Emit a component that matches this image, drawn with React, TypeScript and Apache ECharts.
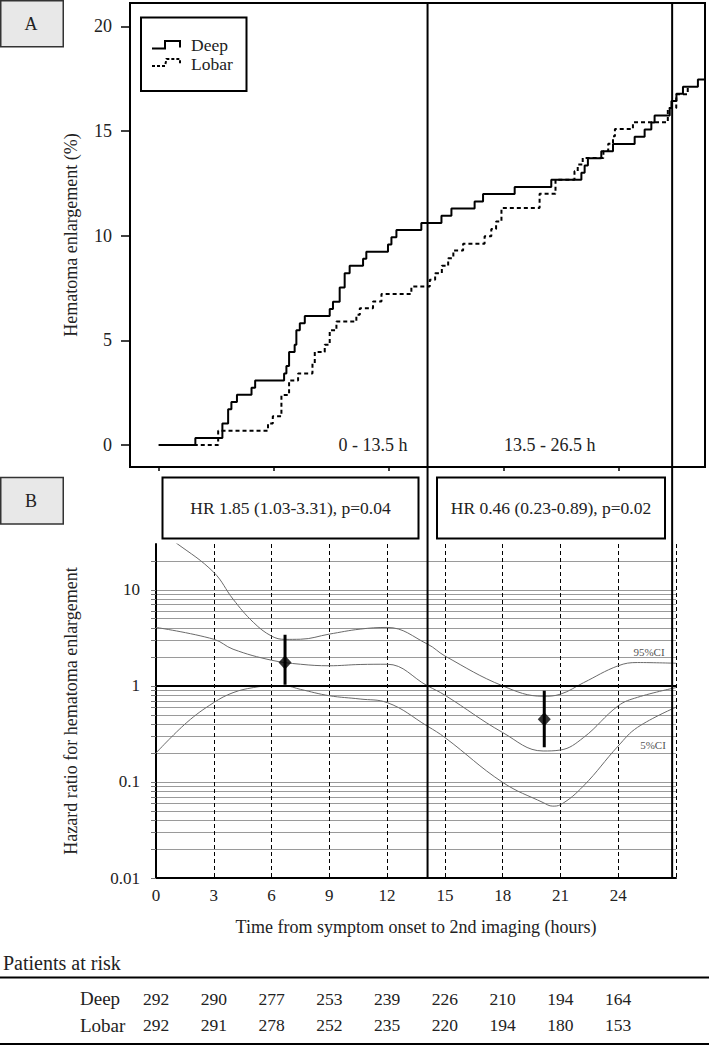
import React, { useEffect, useRef } from "react";
import * as echarts from "echarts";

const FONT = "'Liberation Serif', 'DejaVu Serif', serif";

// ---- Panel A: cumulative hematoma enlargement (%), [hours, %] ----
const deepCurve: [number, number][] = [
  [0, 0], [1.91, 0.34], [3.32, 1.03], [3.62, 1.71], [3.79, 2.05], [4.08, 2.4], [4.84, 2.74],
  [5.03, 3.08], [6.54, 3.42], [6.66, 3.77], [6.8, 4.45], [7.09, 4.79], [7.18, 5.48], [7.36, 5.82],
  [7.62, 6.16], [8.92, 6.5], [9.09, 6.85], [9.44, 7.53], [9.7, 8.21], [9.96, 8.56], [10.66, 8.9],
  [10.83, 9.24], [11.96, 9.58], [12.14, 9.93], [12.4, 10.27], [13.7, 10.61], [14.75, 10.96],
  [15.27, 11.3], [16.48, 11.64], [16.92, 11.99], [18.57, 12.33], [20.48, 12.67], [22.05, 13.01],
  [22.22, 13.36], [22.39, 13.7], [23.09, 14.04], [23.7, 14.38], [24.83, 14.73], [25.35, 15.07],
  [25.7, 15.41], [25.87, 15.75], [26.66, 16.1], [26.75, 16.44], [27.01, 16.78], [27.35, 17.12],
  [28.13, 17.47], [28.5, 17.47],
];
const lobarCurve: [number, number][] = [
  [0, 0], [3.1, 0.68], [5.7, 1.03], [5.95, 1.37], [6.4, 2.39], [6.8, 3.08], [7.27, 3.42],
  [8.02, 3.9], [8.14, 4.45], [8.66, 4.79], [8.92, 5.48], [9.27, 5.9], [10.31, 6.22], [10.49, 6.54],
  [11.18, 6.86], [11.62, 7.22], [13.18, 7.57], [14.14, 7.9], [14.42, 8.21], [14.77, 8.56],
  [15.1, 8.93], [15.37, 9.3], [15.88, 9.62], [17.0, 9.97], [17.35, 10.32], [17.6, 10.68],
  [17.88, 11.32], [19.87, 12.0], [20.7, 12.68], [21.69, 13.08], [21.86, 13.4], [22.12, 13.72],
  [23.2, 14.05], [23.45, 14.4], [23.7, 14.75], [23.8, 15.1], [24.74, 15.42], [26.56, 16.1],
  [27.0, 16.76], [27.6, 17.1], [27.7, 17.1],
];
const panelAYTicks = [0, 5, 10, 15, 20];
const panelAXTicks = [0, 6, 12, 18, 24];
const seriesNames = ["Deep", "Lobar"];

// ---- Panel B: hazard ratio over time, [hours, HR] ----
const hrUpper95: [number, number][] = [
  [0, 42], [1.07, 30.5], [3, 15.2], [4, 8.0], [5.05, 4.6], [6, 3.3], [6.7, 3.05], [7.5, 3.06],
  [9, 3.46], [10.6, 3.9], [12, 4.06], [14.1, 2.72], [15, 2.05], [18, 1.0], [20.1, 0.78],
  [21, 0.82], [22.2, 1.08], [24, 1.62], [25, 1.75], [27, 1.72],
];
const hrEstimate: [number, number][] = [
  [0, 4.06], [3, 3.06], [4, 2.41], [6, 1.85], [7.5, 1.68], [9, 1.62], [10.6, 1.67], [12, 1.68],
  [14.1, 1.0], [15, 0.8], [18, 0.327], [20.1, 0.21], [21, 0.215], [22.2, 0.29], [24, 0.62],
  [25, 0.76], [27, 0.96],
];
const hrLower5: [number, number][] = [
  [0, 0.2], [1.6, 0.416], [3, 0.67], [4, 0.85], [5.05, 0.96], [6, 1.0], [6.7, 1.0], [7.5, 0.92],
  [9, 0.79], [10.6, 0.73], [12, 0.67], [14.1, 0.38], [15, 0.29], [18, 0.099], [20.1, 0.061],
  [20.6, 0.056], [21, 0.058], [22.2, 0.091], [24, 0.237], [25, 0.37], [27, 0.6],
];
const hrPointTimes = [6.7, 20.16];
const hrPointValues = [1.75, 0.45];
const hrPointLow = [1.03, 0.23];
const hrPointHigh = [3.4, 0.89];
const hrTexts = ["HR 1.85 (1.03-3.31), p=0.04", "HR 0.46 (0.23-0.89), p=0.02"];

const panelBXTicks = [0, 3, 6, 9, 12, 15, 18, 21, 24];
const panelBYLabels = [0.01, 0.1, 1, 10];
const panelBYGrid = [
  0.01, 0.02, 0.03, 0.04, 0.05, 0.06, 0.07, 0.08, 0.09,
  0.1, 0.2, 0.3, 0.4, 0.5, 0.6, 0.7, 0.8, 0.9,
  1, 2, 3, 4, 5, 6, 7, 8, 9, 10, 20,
];

const periodSplits = [14.1, 26.8];
const periodLabels = ["0 - 13.5 h", "13.5 - 26.5 h"];

// ---- Patients at risk ----
const riskTimes = [0, 3, 6, 9, 12, 15, 18, 21, 24];
const deepAtRisk = [292, 290, 277, 253, 239, 226, 210, 194, 164];
const lobarAtRisk = [292, 291, 278, 252, 235, 220, 194, 180, 153];

export default function App() {
  const ref = useRef<HTMLDivElement>(null);

  useEffect(() => {
    document.body.style.margin = "0";
    const el = ref.current;
    if (!el) return;
    const chart = echarts.init(el, undefined, { renderer: "svg" });

    const black2 = { color: "#000", width: 2 };
    const fmt = (v: number) => String(+Number(v).toPrecision(3));

    const errorBars = hrPointTimes.map((t, i) => ({
      type: "line",
      xAxisIndex: 1,
      yAxisIndex: 1,
      data: [[t, hrPointLow[i]], [t, hrPointHigh[i]]],
      showSymbol: false,
      silent: true,
      z: 6,
      lineStyle: { color: "#000", width: 3 },
    }));

    const ciLine = (name: string, data: [number, number][], extra: any = {}) => ({
      name,
      type: "line",
      xAxisIndex: 1,
      yAxisIndex: 1,
      data,
      smooth: 0.4,
      showSymbol: false,
      silent: true,
      clip: true,
      z: 3,
      lineStyle: { color: "#6a6a6a", width: 1 },
      ...extra,
    });

    chart.setOption({
      animation: false,
      textStyle: { fontFamily: FONT },
      grid: [
        { left: 130, top: 3, width: 575, height: 464, show: true, borderColor: "#000", borderWidth: 2, backgroundColor: "transparent" },
        { left: 156, top: 544, width: 520, height: 334 },
      ],
      xAxis: [
        {
          gridIndex: 0, type: "value", min: -1.5, max: 28.5,
          axisLine: { show: false, onZero: false },
          axisTick: { show: true, customValues: panelAXTicks, length: 4, lineStyle: { color: "#000", width: 1.5 } },
          axisLabel: { show: false },
          splitLine: { show: false },
        },
        {
          gridIndex: 1, type: "value", min: 0, max: 27, interval: 3,
          axisLine: { show: true, onZero: false, lineStyle: black2 },
          axisTick: { show: false },
          axisLabel: { customValues: panelBXTicks, fontSize: 17, color: "#222", margin: 9, fontFamily: FONT },
          splitLine: { show: true, lineStyle: { type: [4, 3], color: "#000", width: 1 } },
          name: "Time from symptom onset to 2nd imaging (hours)",
          nameLocation: "middle",
          nameGap: 40,
          nameTextStyle: { fontSize: 18, color: "#222", fontFamily: FONT },
        },
      ],
      yAxis: [
        {
          gridIndex: 0, type: "value", min: -1.05, max: 21.12,
          axisLine: { show: false, onZero: false },
          axisTick: { show: true, customValues: panelAYTicks, length: 9, lineStyle: { color: "#000", width: 1.5 } },
          axisLabel: { customValues: panelAYTicks, fontSize: 18, color: "#222", margin: 18, fontFamily: FONT },
          splitLine: { show: false },
          name: "Hematoma enlargement (%)",
          nameLocation: "middle",
          nameGap: 50,
          nameTextStyle: { fontSize: 18, color: "#222", fontFamily: FONT },
        },
        {
          gridIndex: 1, type: "log", logBase: 10, min: 0.01, max: 30,
          axisLine: { show: true, onZero: false, lineStyle: black2 },
          axisTick: { show: true, customValues: panelBYGrid, length: 5, lineStyle: { color: "#777", width: 1 } },
          axisLabel: { customValues: panelBYLabels, fontSize: 17, color: "#222", margin: 16, fontFamily: FONT, formatter: (v: number) => fmt(v) },
          splitLine: { show: true, lineStyle: { color: "#9a9a9a", width: 1 } },
          name: "Hazard ratio for hematoma enlargement",
          nameLocation: "middle",
          nameGap: 76,
          nameTextStyle: { fontSize: 18, color: "#222", fontFamily: FONT },
        },
      ],
      series: [
        {
          name: seriesNames[0], type: "line", xAxisIndex: 0, yAxisIndex: 0, data: deepCurve,
          step: "end", showSymbol: false, silent: true, z: 4,
          lineStyle: { color: "#000", width: 2 },
        },
        {
          name: seriesNames[1], type: "line", xAxisIndex: 0, yAxisIndex: 0, data: lobarCurve,
          step: "end", showSymbol: false, silent: true, z: 3,
          lineStyle: { color: "#000", width: 2, type: [4, 3] },
        },
        ciLine("95%CI", hrUpper95),
        ciLine("HR", hrEstimate, {
          markLine: {
            silent: true, symbol: "none", label: { show: false },
            lineStyle: { color: "#000", width: 2, type: "solid" },
            data: [{ yAxis: 1 }],
          },
        }),
        ciLine("5%CI", hrLower5),
        ...errorBars,
        {
          name: "HR point", type: "scatter", xAxisIndex: 1, yAxisIndex: 1,
          data: hrPointTimes.map((t, i) => [t, hrPointValues[i]]),
          symbol: "diamond", symbolSize: [13, 14], silent: true, z: 7,
          itemStyle: { color: "#000" },
        },
      ],
    });

    const px = (axis: number, v: number) => chart.convertToPixel({ xAxisIndex: axis }, v) as number;
    const py = (axis: number, v: number) => chart.convertToPixel({ yAxisIndex: axis }, v) as number;

    const text = (t: string, x: number, y: number, size: number, extra: any = {}) => ({
      type: "text", x, y, silent: true, z: 20,
      style: { text: t, fill: "#222", fontSize: size, fontFamily: FONT, textAlign: "center", textVerticalAlign: "middle", ...extra },
    });
    const rect = (x: number, y: number, w: number, h: number, fill: string, stroke: string, lw: number) => ({
      type: "rect", silent: true, z: 15, shape: { x, y, width: w, height: h },
      style: { fill, stroke, lineWidth: lw },
    });
    const hline = (x1: number, x2: number, y: number, lw: number) => ({
      type: "line", silent: true, z: 15, shape: { x1, y1: y, x2, y2: y }, style: { stroke: "#000", lineWidth: lw },
    });

    const split1 = px(1, periodSplits[0]);
    const split2 = px(1, periodSplits[1]);
    const yZeroA = py(0, 0);

    const g: any[] = [];
    // panel letters
    g.push(rect(0.75, 0.75, 62.5, 46, "#e8e8e8", "#333", 1.5));
    g.push(text("A", 31, 23.5, 18));
    g.push(rect(0.75, 477.5, 62.5, 46.5, "#e8e8e8", "#333", 1.5));
    g.push(text("B", 31, 501, 18));

    // legend
    g.push(rect(141, 17.5, 105.5, 73.5, "#fff", "#000", 2));
    g.push({
      type: "polyline", silent: true, z: 16,
      shape: { points: [[152, 48.5], [165, 48.5], [165, 41], [180, 41], [180, 47.5]] },
      style: { stroke: "#000", lineWidth: 2, fill: "none" },
    });
    g.push({
      type: "polyline", silent: true, z: 16,
      shape: { points: [[152, 66], [165, 66], [166.5, 59], [180, 59], [180, 64]] },
      style: { stroke: "#000", lineWidth: 2, fill: "none", lineDash: [3, 2] },
    });
    g.push(text(seriesNames[0], 191, 44.5, 17.5, { textAlign: "left" }));
    g.push(text(seriesNames[1], 191, 64, 17.5, { textAlign: "left" }));

    // period labels in panel A
    g.push(text(periodLabels[0], split1 - 20, yZeroA, 18, { textAlign: "right" }));
    g.push(text(periodLabels[1], (split1 + split2) / 2, yZeroA, 18));

    // HR boxes
    g.push(rect(162.5, 477.5, 256, 61, "#fff", "#000", 2));
    g.push(text(hrTexts[0], 290.5, 508, 17.5));
    g.push(rect(437, 477.5, 228, 61, "#fff", "#000", 2));
    g.push(text(hrTexts[1], 551, 508, 17.5));

    // period split lines through both panels
    const bottomB = py(1, 0.01);
    [split1, split2].forEach((x) => {
      g.push({
        type: "line", silent: true, z: 18,
        shape: { x1: x, y1: 3, x2: x, y2: bottomB },
        style: { stroke: "#000", lineWidth: 2 },
      });
    });

    // CI labels
    g.push(text("95%CI", 649, 652, 11, { fill: "#555" }));
    g.push(text("5%CI", 653, 744.5, 11, { fill: "#555" }));

    // Patients at risk table
    g.push(text("Patients at risk", 3, 962.5, 20, { textAlign: "left" }));
    g.push(hline(0, 709, 977.5, 2));
    g.push(text(seriesNames[0], 80, 998.5, 19, { textAlign: "left" }));
    g.push(text(seriesNames[1], 80, 1025, 19, { textAlign: "left" }));
    riskTimes.forEach((t, i) => {
      const x = px(1, t);
      g.push(text(String(deepAtRisk[i]), x, 998.5, 17.5));
      g.push(text(String(lobarAtRisk[i]), x, 1025, 17.5));
    });
    g.push(hline(0, 709, 1044, 2));

    chart.setOption({ graphic: g });

    return () => chart.dispose();
  }, []);

  return <div ref={ref} style={{ width: 709, height: 1046 }} />;
}
